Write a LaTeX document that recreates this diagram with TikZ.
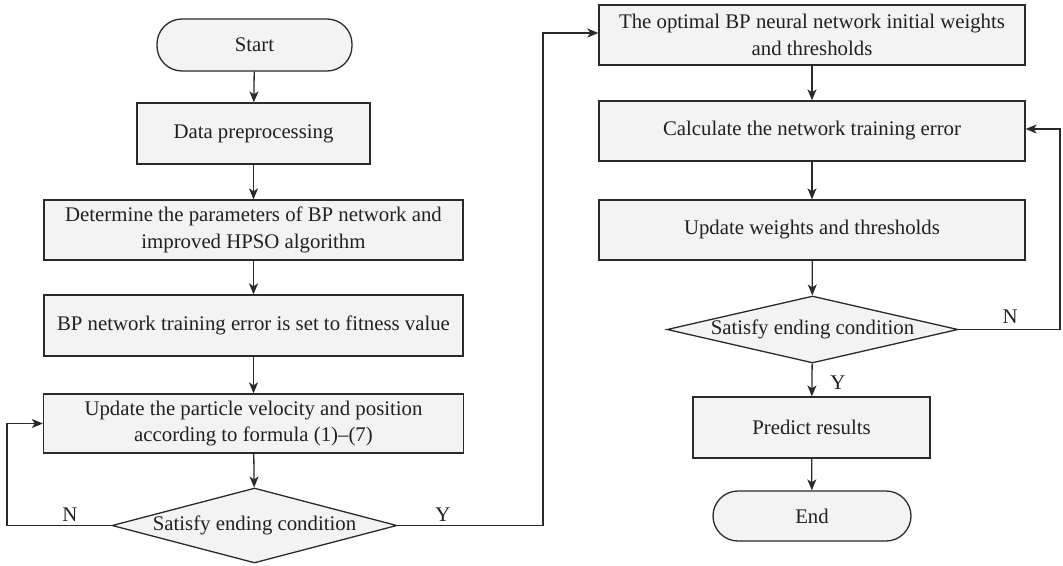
\documentclass[tikz,border=0pt]{standalone}
\usepackage{fontspec}
\setmainfont{Liberation Serif}
\usetikzlibrary{shapes.geometric,arrows.meta}
\definecolor{boxfill}{HTML}{F2F3F2}
\definecolor{linec}{HTML}{2A2A2A}
\definecolor{txtc}{HTML}{231F20}
\begin{document}
\begin{tikzpicture}[x=1pt,y=-1pt,
  every node/.style={font=\fontsize{20.8}{26.5}\selectfont, text=txtc},
  procbox/.style={draw=linec, fill=boxfill, line width=1.3pt, rectangle, inner sep=0pt, align=center},
  termbox/.style={draw=linec, fill=boxfill, line width=1.3pt, rectangle, rounded corners=25pt, inner sep=0pt},
  decbox/.style={draw=linec, fill=boxfill, line width=1.3pt, diamond, inner sep=0pt},
  flow/.style={draw=linec, line width=1.3pt, -{Stealth[length=11pt,width=9pt,inset=3pt]}},
  lab/.style={inner sep=0pt}
]
\useasboundingbox (0,0) rectangle (1063,565);
% left column
\node[termbox, minimum width=195, minimum height=52] (start) at (254.5,45) {Start};
\node[procbox, minimum width=233, minimum height=61] (data) at (253.5,133.5) {Data preprocessing};
\node[procbox, minimum width=419, minimum height=60] (param) at (253.5,230) {Determine the parameters of BP network and\\improved HPSO algorithm};
\node[procbox, minimum width=419, minimum height=61] (fit) at (253.5,325.5) {BP network training error is set to fitness value};
\node[procbox, minimum width=420, minimum height=59] (upd) at (253.5,423.5) {Update the particle velocity and position\\according to formula (1)\textendash(7)};
\node[decbox, minimum width=285, minimum height=75] (dec1) at (254.5,525.5) {\makebox[0pt]{Satisfy ending condition}};
% right column
\node[procbox, minimum width=426, minimum height=60] (opt) at (812,35) {The optimal BP neural network initial weights\\and thresholds};
\node[procbox, minimum width=426, minimum height=60] (calc) at (812,131) {Calculate the network training error};
\node[procbox, minimum width=426, minimum height=60] (updw) at (812,230) {Update weights and thresholds};
\node[decbox, minimum width=291, minimum height=67] (dec2) at (812.5,329.5) {\makebox[0pt]{Satisfy ending condition}};
\node[procbox, minimum width=237, minimum height=61] (pred) at (811.5,427.5) {Predict results};
\node[termbox, minimum width=198, minimum height=50] (end) at (812,516) {End};
% helper coordinates
\coordinate (nl) at (7,525.5);
\coordinate (yr) at (543,525.5);
\coordinate (nr) at (1060,329.5);
% connectors
\draw[flow] (start) -- (data);
\draw[flow] (data) -- (param);
\draw[flow] (param) -- (fit);
\draw[flow] (fit) -- (upd);
\draw[flow] (upd) -- (dec1);
\draw[flow] (dec1.west) -- (nl) |- (upd.west);
\draw[flow] (dec1.east) -- (yr) |- ([yshift=2pt]opt.west);
\draw[flow] (opt) -- (calc);
\draw[flow] (calc) -- (updw);
\draw[flow] (updw) -- (dec2);
\draw[flow] (dec2) -- (pred);
\draw[flow] (pred) -- (end);
\draw[flow] (dec2.east) -- (nr) |- ([yshift=2pt]calc.east);
% labels
\node[lab] (n1) at (70,515) {N};
\node[lab] (y1) at (443,515) {Y};
\node[lab] (n2) at (1010,317) {N};
\node[lab] (y2) at (838,383) {Y};
\end{tikzpicture}
\end{document}
